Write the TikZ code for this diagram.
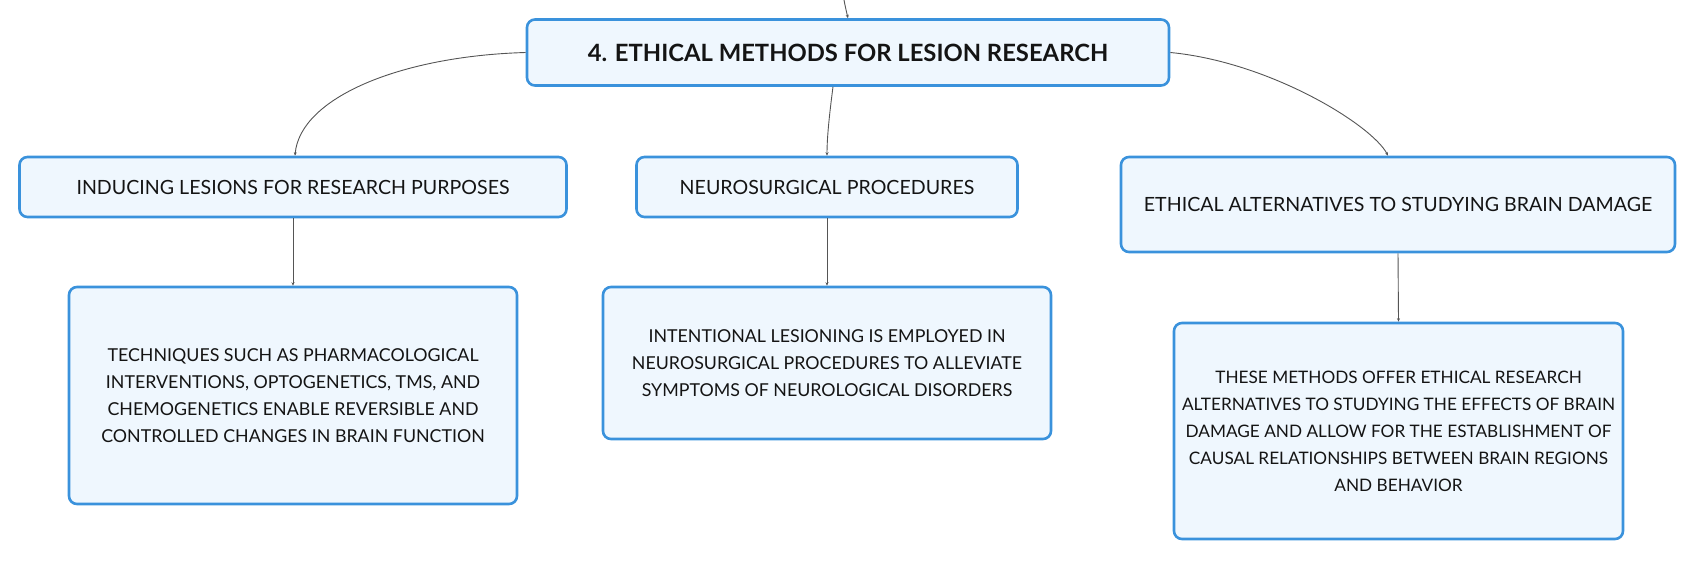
\documentclass[tikz,border=0pt]{standalone}
\usepackage{fontspec}
\setmainfont{Lato}
\usetikzlibrary{arrows.meta}
\definecolor{boxborder}{HTML}{3A92DC}
\definecolor{boxfill}{HTML}{EFF7FE}
\definecolor{linegray}{HTML}{555555}
\tikzset{
  box/.style={draw=boxborder, line width=2.6pt, fill=boxfill, rounded corners=8pt,
    inner sep=0pt, align=center, font=\fontsize{17.8}{27}\selectfont, text=black!92},
  narrowbox/.style={box, font=\fontsize{17.2}{27}\selectfont},
  labelbox/.style={box, font=\fontsize{19.6}{24}\selectfont},
  titlebox/.style={box, font=\fontsize{23.8}{28}\selectfont\bfseries},
  conn/.style={draw=linegray, line width=0.9pt, -{Stealth[length=3.5pt,width=3pt]}}
}
\begin{document}
\begin{tikzpicture}[x=1pt,y=-1pt]
\useasboundingbox (0,0) rectangle (1697,562);
\node[titlebox, minimum width=642pt, minimum height=66pt] (title) at (848,52.5) {4. ETHICAL METHODS FOR LESION RESEARCH};
\node[labelbox, minimum width=547pt, minimum height=60pt] (b1) at (293,187) {INDUCING LESIONS FOR RESEARCH PURPOSES};
\node[labelbox, minimum width=381pt, minimum height=60pt] (b2) at (827,187) {NEUROSURGICAL PROCEDURES};
\node[labelbox, minimum width=554pt, minimum height=95pt] (b3) at (1398,204.5) {ETHICAL ALTERNATIVES TO STUDYING BRAIN DAMAGE};
\node[box, minimum width=448pt, minimum height=217pt] (b4) at (293,395.5) {TECHNIQUES SUCH AS PHARMACOLOGICAL\\INTERVENTIONS, OPTOGENETICS, TMS, AND\\CHEMOGENETICS ENABLE REVERSIBLE AND\\CONTROLLED CHANGES IN BRAIN FUNCTION};
\node[box, minimum width=448pt, minimum height=152pt] (b5) at (827,363) {INTENTIONAL LESIONING IS EMPLOYED IN\\NEUROSURGICAL PROCEDURES TO ALLEVIATE\\SYMPTOMS OF NEUROLOGICAL DISORDERS};
\node[narrowbox, minimum width=449pt, minimum height=216pt] (b6) at (1398.5,431) {THESE METHODS OFFER ETHICAL RESEARCH\\ALTERNATIVES TO STUDYING THE EFFECTS OF BRAIN\\DAMAGE AND ALLOW FOR THE ESTABLISHMENT OF\\CAUSAL RELATIONSHIPS BETWEEN BRAIN REGIONS\\AND BEHAVIOR};
\coordinate (topin) at (844,0);
\draw[conn] (topin) .. controls (845.5,8) and (847,14) .. (title.north);
\draw[conn] (title.west) .. controls (400,56) and (300,98) .. ([xshift=2pt]b1.north);
\draw[conn] ([xshift=-15pt]title.south) .. controls (830,110) and (827,135) .. (b2.north);
\draw[conn] (title.east) .. controls (1270,62) and (1372,125) .. ([xshift=-10pt]b3.north);
\draw[conn] (b1.south) -- (b4.north);
\draw[conn] (b2.south) -- (b5.north);
\draw[conn] (b3.south) -- (b6.north);
\end{tikzpicture}
\end{document}
